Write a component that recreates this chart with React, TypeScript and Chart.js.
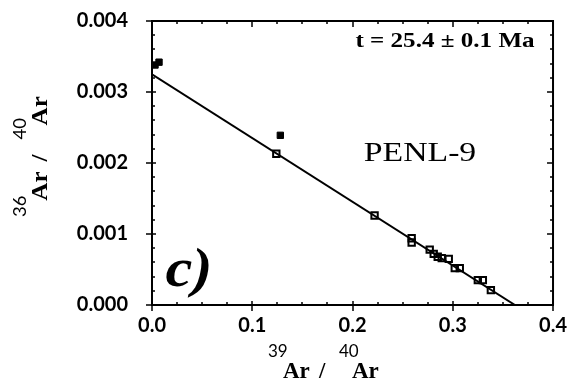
import { useEffect, useRef } from "react";
import { Chart, registerables } from "chart.js";

Chart.register(...registerables);

// 39Ar/40Ar vs 36Ar/40Ar inverse isochron, sample PENL-9
const openX = [0.124, 0.222, 0.259, 0.259, 0.277, 0.281, 0.285, 0.289, 0.296, 0.302, 0.307, 0.325, 0.33, 0.338];
const openY = [0.00213, 0.00126, 0.00094, 0.00088, 0.00078, 0.00072, 0.00068, 0.00066, 0.00065, 0.00052, 0.00052, 0.00035, 0.00035, 0.00021];
const filledX = [0.003, 0.007, 0.128];
const filledY = [0.00338, 0.00342, 0.00239];
const fitX = [0, 0.362];
const fitY = [0.00325, 0];

const xMajor = [0, 0.1, 0.2, 0.3, 0.4];
const yMajor = [0, 0.001, 0.002, 0.003, 0.004];
const xMinorStep = 0.025;
const yMinorStep = 0.0002;

const ageLabel = "t = 25.4 ± 0.1 Ma";
const sampleLabel = "PENL-9";
const panelLabel = "c)";

const SANS = "Lato, 'DejaVu Sans', sans-serif";
const SERIF = "'Liberation Serif', 'DejaVu Serif', serif";

type Seg = { text: string; font: string; x: number; dy: number };

// draws text pieces at given offsets along a baseline starting at (x0, y0)
function drawPieces(
  ctx: CanvasRenderingContext2D,
  segs: Seg[],
  x0: number,
  y0: number,
  angle: number,
  sx: number
) {
  ctx.save();
  ctx.translate(x0, y0);
  ctx.rotate(angle);
  ctx.scale(sx, 1);
  ctx.textBaseline = "alphabetic";
  ctx.textAlign = "left";
  ctx.fillStyle = "#000";
  segs.forEach((s) => {
    ctx.font = s.font;
    ctx.fillText(s.text, s.x, s.dy);
  });
  ctx.restore();
}

function drawCentered(
  ctx: CanvasRenderingContext2D,
  text: string,
  font: string,
  cx: number,
  baseY: number,
  sx: number
) {
  ctx.save();
  ctx.translate(cx, baseY);
  ctx.scale(sx, 1);
  ctx.font = font;
  ctx.textAlign = "center";
  ctx.textBaseline = "alphabetic";
  ctx.fillStyle = "#000";
  ctx.fillText(text, 0, 0);
  ctx.restore();
}

const framePlugin = {
  id: "frameAndLabels",
  afterDraw(chart: any) {
    const ctx: CanvasRenderingContext2D = chart.ctx;
    const { left, right, top, bottom } = chart.chartArea;
    const xs = chart.scales.x;
    const ys = chart.scales.y;
    ctx.save();
    ctx.strokeStyle = "#000";
    ctx.lineWidth = 2;
    ctx.beginPath();
    ctx.moveTo(left, top);
    ctx.lineTo(right, top);
    ctx.lineTo(right, bottom);
    ctx.stroke();

    // tick marks
    ctx.lineWidth = 1.5;
    ctx.beginPath();
    const xMin = xMajor[0];
    const xMax = xMajor[xMajor.length - 1];
    for (let v = xMin; v <= xMax + 1e-9; v += xMinorStep) {
      const px = Math.round(xs.getPixelForValue(v));
      const major = xMajor.some((m) => Math.abs(m - v) < 1e-9);
      if (major) {
        ctx.moveTo(px, bottom - 4);
        ctx.lineTo(px, bottom + 6);
        ctx.moveTo(px, top);
        ctx.lineTo(px, top + 6);
      } else {
        ctx.moveTo(px, bottom);
        ctx.lineTo(px, bottom - 3);
        ctx.moveTo(px, top);
        ctx.lineTo(px, top + 3);
      }
    }
    const yMin = yMajor[0];
    const yMax = yMajor[yMajor.length - 1];
    for (let v = yMin; v <= yMax + 1e-12; v += yMinorStep) {
      const py = Math.round(ys.getPixelForValue(v));
      const major = yMajor.some((m) => Math.abs(m - v) < 1e-9);
      if (major) {
        ctx.moveTo(left - 6, py);
        ctx.lineTo(left + 4, py);
        ctx.moveTo(right, py);
        ctx.lineTo(right - 6, py);
      } else {
        ctx.moveTo(left, py);
        ctx.lineTo(left + 3, py);
        ctx.moveTo(right, py);
        ctx.lineTo(right - 3, py);
      }
    }
    ctx.stroke();
    ctx.restore();

    // annotations
    drawCentered(ctx, ageLabel, `bold 22px ${SERIF}`, 445, 47, 1.14);
    drawCentered(ctx, sampleLabel, `27px ${SERIF}`, 420, 161, 1.25);
    drawCentered(ctx, panelLabel, `italic bold 54px ${SERIF}`, 189, 286, 1.12);

    // axis titles with mass-number superscripts
    const sup = `17px ${SANS}`;
    const main = `bold 23px ${SERIF}`;
    const title = (a: string, b: string): Seg[] => [
      { text: a, font: sup, x: 0, dy: -21 },
      { text: "Ar", font: main, x: 15, dy: 0 },
      { text: "/", font: main, x: 51, dy: 0 },
      { text: b, font: sup, x: 71, dy: -21 },
      { text: "Ar", font: main, x: 84, dy: 0 },
    ];
    drawPieces(ctx, title("39", "40"), 268, 378, 0, 1.0);
    drawPieces(ctx, title("36", "40"), 47, 217, -Math.PI / 2, 1.09);
  },
};

export default function App() {
  const ref = useRef<HTMLCanvasElement | null>(null);

  useEffect(() => {
    if (!ref.current) return;
    const chart = new Chart(ref.current, {
      type: "scatter",
      data: {
        datasets: [
          {
            label: "isochron",
            data: fitX.map((x, i) => ({ x, y: fitY[i] })),
            showLine: true,
            borderColor: "#000",
            borderWidth: 2,
            pointRadius: 0,
            order: 3,
          },
          {
            label: "included steps",
            data: openX.map((x, i) => ({ x, y: openY[i] })),
            pointStyle: "rect",
            pointRadius: 4.5,
            backgroundColor: "rgba(255,255,255,0)",
            borderColor: "#000",
            borderWidth: 2,
            order: 2,
          },
          {
            label: "excluded steps",
            data: filledX.map((x, i) => ({ x, y: filledY[i] })),
            pointStyle: "rect",
            pointRadius: 4.5,
            backgroundColor: "#000",
            borderColor: "#000",
            borderWidth: 1,
            order: 1,
          },
        ],
      },
      options: {
        animation: false,
        responsive: true,
        maintainAspectRatio: false,
        layout: { padding: { top: 21, right: 19, left: 0, bottom: 0 } },
        plugins: {
          legend: { display: false },
          tooltip: { enabled: false },
        },
        scales: {
          x: {
            type: "linear",
            min: xMajor[0],
            max: xMajor[xMajor.length - 1],
            afterFit: (s: any) => {
              s.height = 83;
            },
            afterBuildTicks: (s: any) => {
              s.ticks = xMajor.map((value) => ({ value }));
            },
            ticks: {
              callback: (v: any) => Number(v).toFixed(1),
              color: "#000",
              font: { family: SANS, size: 20, weight: "bold" },
              padding: 9,
              maxRotation: 0,
            },
            grid: { display: false, drawTicks: false },
            border: { display: true, color: "#000", width: 2 },
          },
          y: {
            type: "linear",
            min: yMajor[0],
            max: yMajor[yMajor.length - 1],
            afterFit: (s: any) => {
              s.width = 152;
            },
            afterBuildTicks: (s: any) => {
              s.ticks = yMajor.map((value) => ({ value }));
            },
            ticks: {
              callback: (v: any) => Number(v).toFixed(3),
              color: "#000",
              font: { family: SANS, size: 20, weight: "bold" },
              padding: 0,
            },
            // invisible tick marks reserve the gap between labels and axis
            grid: {
              display: true,
              drawOnChartArea: false,
              drawTicks: true,
              tickLength: 24,
              tickColor: "rgba(0,0,0,0)",
              color: "rgba(0,0,0,0)",
            },
            border: { display: true, color: "#000", width: 2 },
          },
        },
      },
      plugins: [framePlugin],
    });
    return () => chart.destroy();
  }, []);

  return (
    <div style={{ position: "fixed", left: 0, top: 0, width: 576, height: 388, background: "#fff" }}>
      <canvas ref={ref} />
    </div>
  );
}
